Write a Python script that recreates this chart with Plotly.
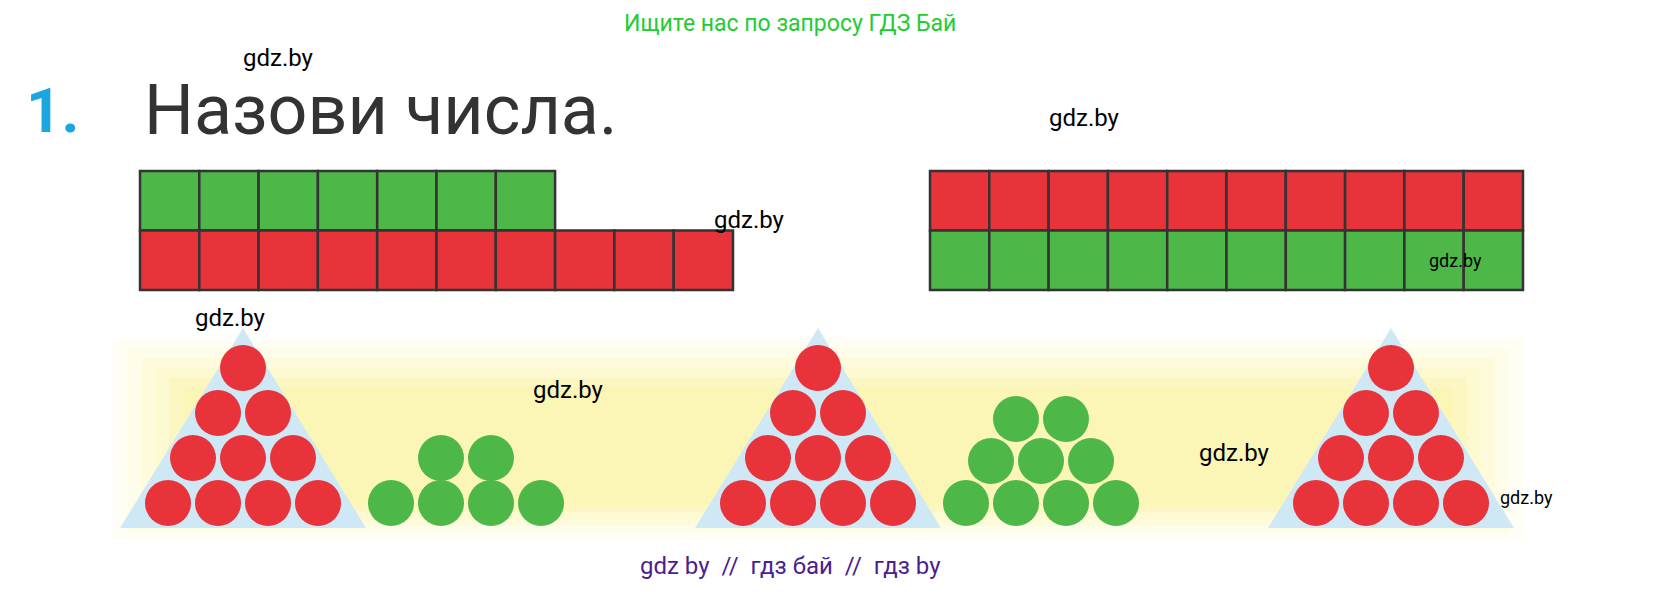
import plotly.graph_objects as go

W, H = 1666, 613

# grid rows: (number of cells, colour)
left_rows = [(7, "#4db848"), (10, "#e8333a")]
right_rows = [(10, "#e8333a"), (10, "#4db848")]
# circle pyramids: circles per row from top to bottom
red_pyramid = [1, 2, 3, 4]
green_small = [2, 4]
green_big = [2, 3, 4]
watermarks = [(270, 50, 24), (1076, 110, 24), (741, 212, 24), (222, 310, 24),
              (560, 382, 24), (1226, 445, 24), (1447, 252, 18), (1518, 489, 18)]

RED, GREEN = "#e8333a", "#4db848"
fig = go.Figure()
shapes = []

# yellow glow band (soft layered rects)
glow = ["#fffef4", "#fefdea", "#fefbdd", "#fdf9d0", "#fcf7c2", "#fbf5b6"]
for i, c in enumerate(glow):
    pad = i * 14
    shapes.append(dict(type="rect", x0=105 + pad, x1=1515 - pad, y0=330 + pad * 0.7, y1=532 - pad * 0.5,
                       fillcolor=c, line_width=0, layer="below"))

def grid(x0, y0, rows, cw=59.3, ch=59.5):
    for r, (n, col) in enumerate(rows):
        for k in range(n):
            shapes.append(dict(type="rect", x0=x0 + k * cw, x1=x0 + (k + 1) * cw,
                               y0=y0 + r * ch, y1=y0 + (r + 1) * ch,
                               fillcolor=col, line=dict(color="#333333", width=2.5)))

grid(132, 163, left_rows)
grid(922, 163, right_rows)

def triangle(cx):
    shapes.append(dict(type="path", path=f"M {cx},320 L {cx-123},520 L {cx+123},520 Z",
                       fillcolor="#cfe8f5", line_width=0, layer="below"))

def pyramid(cx, rows, col, bottom=495, dx=50, dy=45):
    xs, ys = [], []
    n = len(rows)
    for i, cnt in enumerate(rows):
        y = bottom - (n - 1 - i) * dy
        for k in range(cnt):
            xs.append(cx + (k - (cnt - 1) / 2) * dx)
            ys.append(y)
    fig.add_trace(go.Scatter(x=xs, y=ys, mode="markers", hoverinfo="skip",
                             marker=dict(size=46, color=col, line_width=0)))

for cx in [235, 810, 1383]:
    triangle(cx)
    pyramid(cx, red_pyramid, RED)
pyramid(458, green_small, GREEN)
pyramid(1033, green_big, GREEN, dy=42)

ann = [
    dict(x=782, y=15, text="Ищите нас по запросу ГДЗ Бай", font=dict(size=23, color="#22cc33")),
    dict(x=45, y=102, text="<b>1.</b>", font=dict(size=62, color="#1aa7e0")),
    dict(x=372, y=102, text="Назови числа.", font=dict(size=70, color="#333333")),
    dict(x=782, y=558, text="gdz by  //  гдз бай  //  гдз by", font=dict(size=24, color="#4b1e8f")),
]
for x, y, s in watermarks:
    ann.append(dict(x=x, y=y, text="gdz.by", font=dict(size=s, color="black")))
for a in ann:
    a.update(showarrow=False, xref="x", yref="y")
    a["font"]["family"] = "Roboto, Arial"

fig.update_layout(width=W, height=H, margin=dict(l=0, r=0, t=0, b=0),
                  paper_bgcolor="white", plot_bgcolor="white", showlegend=False,
                  shapes=shapes, annotations=ann,
                  xaxis=dict(range=[0, W], visible=False, fixedrange=True),
                  yaxis=dict(range=[H, 0], visible=False, fixedrange=True))
fig.write_html("out.html")
